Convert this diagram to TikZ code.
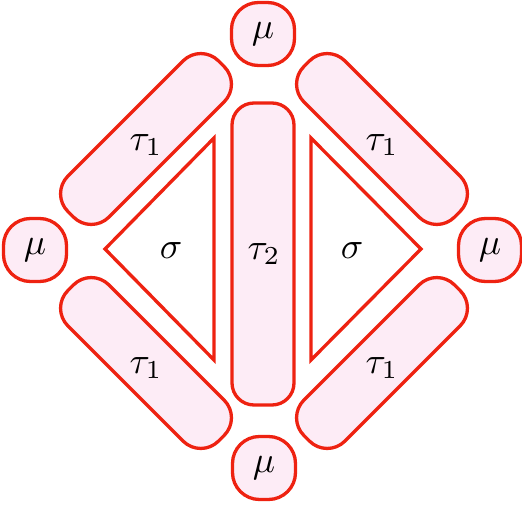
\documentclass[tikz,border=0pt]{standalone}
\usepackage{graphicx}
\definecolor{redline}{RGB}{238,34,17}
\definecolor{pinkfill}{RGB}{253,236,246}
\newcommand{\lblmath}[1]{\scalebox{3.7}{$#1$}}
\tikzset{
  box/.style={draw=redline, fill=pinkfill, line width=3.3pt, rounded corners=22pt, inner sep=0pt},
  mubox/.style={box, rounded corners=27pt, minimum width=63pt, minimum height=63pt},
  capsule/.style={box, rounded corners=25pt, minimum width=213pt, minimum height=58pt},
  tri/.style={draw=redline, fill=white, line width=3.3pt, line join=miter},
  lab/.style={inner sep=0pt}
}
\begin{document}
\begin{tikzpicture}[x=1pt,y=-1pt]
\useasboundingbox (0,0) rectangle (522,510);
% mu nodes
\node[mubox, lab] (mutop) at (263,34) {\lblmath{\mu}};
\node[mubox, lab] (mubot) at (264,468) {\lblmath{\mu}};
\node[mubox, lab] (muleft) at (35,250) {\lblmath{\mu}};
\node[mubox, lab] (muright) at (490,250) {\lblmath{\mu}};
% capsules
\node[capsule, rotate=45] (tl) at (146,139) {};
\node[capsule, rotate=-45] (bl) at (146,363) {};
\node[capsule, rotate=-45] (tr) at (382,139) {};
\node[capsule, rotate=45] (br) at (382,363) {};
\node[lab] (ltl) at (146,145) {\lblmath{\tau_1}};
\node[lab] (lbl) at (146,368) {\lblmath{\tau_1}};
\node[lab] (ltr) at (382,145) {\lblmath{\tau_1}};
\node[lab] (lbr) at (382,368) {\lblmath{\tau_1}};
% center bar
\node[box, minimum width=62pt, minimum height=302pt] (mid) at (263,254) {};
\node[lab] (lmid) at (264,254) {\lblmath{\tau_2}};
% triangles
\draw[tri] (214,138) -- (105,249) -- (214,360) -- cycle;
\draw[tri] (311,138) -- (421,249) -- (311,360) -- cycle;
\node[lab] (sl) at (171,251) {\lblmath{\sigma}};
\node[lab] (sr) at (352,251) {\lblmath{\sigma}};
\end{tikzpicture}
\end{document}
